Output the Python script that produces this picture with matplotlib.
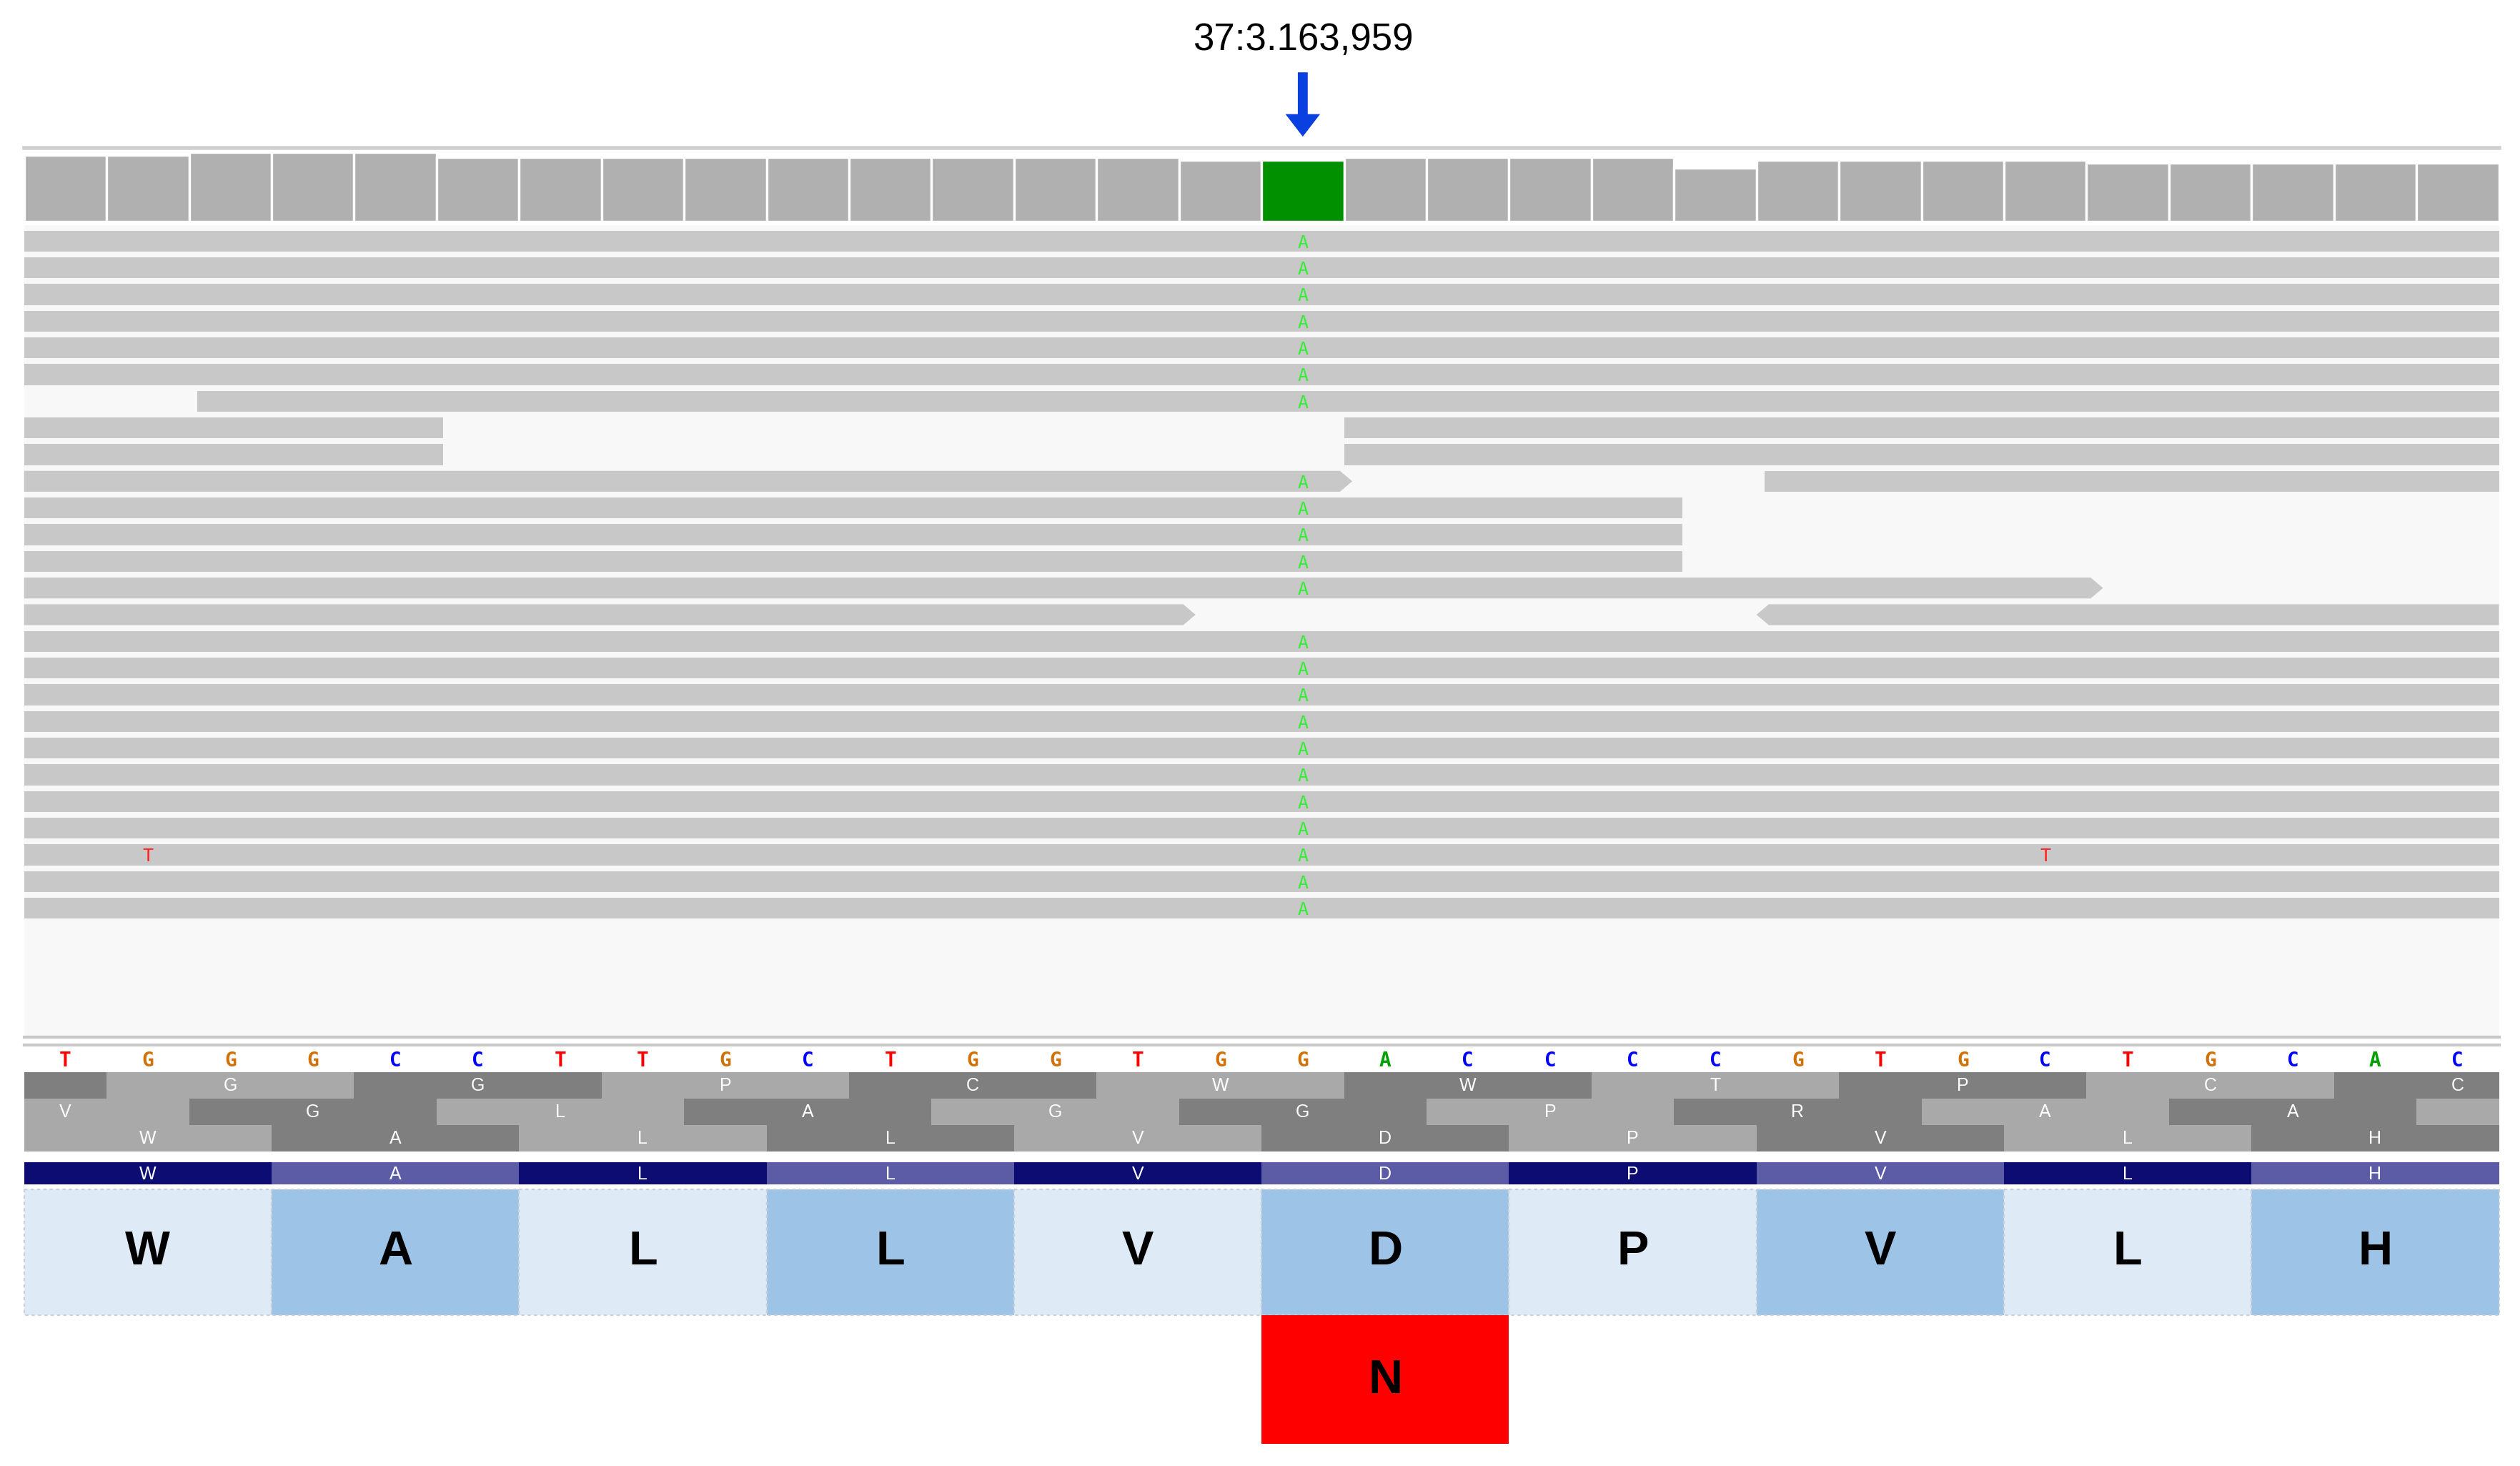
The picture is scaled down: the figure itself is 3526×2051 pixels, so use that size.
import matplotlib
matplotlib.use("Agg")
import matplotlib.pyplot as plt
from matplotlib.patches import Rectangle, Polygon, FancyArrow

plt.rcParams['font.family'] = ['Liberation Sans', 'DejaVu Sans']

# reference sequence (30 bases shown), variant at index 15
bases = list("TGGGCCTTGCTGGTGGACCCCGTGCTGCAC")
var_idx = 15
var_base = "A"
coverage = [26, 26, 27, 27, 27, 25, 25, 25, 25, 25, 25, 25, 25, 25, 24, 24,
            25, 25, 25, 25, 21, 24, 24, 24, 24, 23, 23, 23, 23, 23]

# reads: list of (start, end, arrow) per row; arrow 'r', 'l' or ''
reads = [
    [(0, 30, '')], [(0, 30, '')], [(0, 30, '')], [(0, 30, '')], [(0, 30, '')],
    [(0, 30, '')], [(2.1, 30, '')],
    [(0, 5.08, ''), (16.0, 30, '')], [(0, 5.08, ''), (16.0, 30, '')],
    [(0, 16.1, 'r'), (21.1, 30, '')],
    [(0, 20.1, '')], [(0, 20.1, '')], [(0, 20.1, '')],
    [(0, 25.2, 'r')],
    [(0, 14.2, 'r'), (21.0, 30, 'l')],
] + [[(0, 30, '')] for _ in range(11)]
mismatches = {23: [(1, 'T'), (24, 'T')]}

frame_letters = [
    (1, "GGPCWWTPCCT"),     # frame row 1, codons start at 1 (+ partial at -2)
    (-1, "VGLAGGPRAA"),     # frame row 2
    (0, "WALLVDPVLH"),      # frame row 3
]
frame_first_dark = [True, False, False]
protein = "WALLVDPVLH"
mutation = "N"
label = "37:3.163,959"

base_col = {'T': '#ff0000', 'G': '#d17105', 'C': '#0000ff', 'A': '#00a000'}

fig = plt.figure(figsize=(17.63, 10.255), dpi=200)
ax = fig.add_axes([0, 0, 1, 1])
ax.set_xlim(-15 / 51.33, (1568 - 15) / 51.33)
ax.set_ylim(912, 0)
ax.axis('off')

# top label and arrow
ax.text(var_idx + 0.5, 25, label, ha='center', va='center', fontsize=19)
ax.add_patch(FancyArrow(var_idx + 0.5, 45, 0, 40, width=0.12, head_width=0.42,
                        head_length=14, length_includes_head=True,
                        color='#0a3fe0', lw=0))

# separator lines
ax.plot([0, 30], [92, 92], color='#d0d0d0', lw=2)
ax.add_patch(Rectangle((0, 140), 30, 505, color='#f8f8f8', lw=0))

# coverage track
base_y = 138
for i, c in enumerate(coverage):
    h = c * 1.6
    col = '#009000' if i == var_idx else '#b0b0b0'
    ax.add_patch(Rectangle((i, base_y - h), 1, h, facecolor=col, edgecolor='white', lw=1.2))

# reads
row_h = 13
for r, segs in enumerate(reads):
    yc = 150 + r * 16.6
    for s, e, arr in segs:
        if arr == 'r':
            pts = [(s, yc - row_h / 2), (e - 0.15, yc - row_h / 2), (e, yc), (e - 0.15, yc + row_h / 2), (s, yc + row_h / 2)]
        elif arr == 'l':
            pts = [(s + 0.15, yc - row_h / 2), (e, yc - row_h / 2), (e, yc + row_h / 2), (s + 0.15, yc + row_h / 2), (s, yc)]
        else:
            pts = [(s, yc - row_h / 2), (e, yc - row_h / 2), (e, yc + row_h / 2), (s, yc + row_h / 2)]
        ax.add_patch(Polygon(pts, closed=True, color='#c8c8c8', lw=0))
        if s <= var_idx and e >= var_idx + 1:
            ax.text(var_idx + 0.5, yc + 1, var_base, ha='center', va='center',
                    fontsize=9, color='#33ee33', family='DejaVu Sans Mono')
    for pos, b in mismatches.get(r, []):
        ax.text(pos + 0.5, yc + 1, b, ha='center', va='center', fontsize=9,
                color='#ff2020', family='DejaVu Sans Mono')

ax.plot([0, 30], [645, 645], color='#c8c8c8', lw=1.5)
ax.plot([0, 30], [650, 650], color='#c8c8c8', lw=1.5)

# sequence
for i, b in enumerate(bases):
    ax.text(i + 0.5, 660, b, ha='center', va='center', fontsize=10, color=base_col[b],
            fontweight='bold', family='DejaVu Sans Mono')

# translation frames
for k, (start, letters) in enumerate(frame_letters):
    y0 = 667 + k * 16.5
    dark = frame_first_dark[k]
    s = start - 3 if start > 0 else start
    idx = -1 if start > 0 else 0
    while s < 30:
        lo, hi = max(s, 0), min(s + 3, 30)
        col = '#7f7f7f' if dark else '#a9a9a9'
        ax.add_patch(Rectangle((lo, y0), hi - lo, 16.5, color=col, lw=0))
        if 0 <= idx < len(letters):
            ax.text(s + 1.5, y0 + 8.5, letters[idx], ha='center', va='center',
                    fontsize=9, color='white')
        dark = not dark
        s += 3
        idx += 1

# protein bar and big boxes
for j, aa in enumerate(protein):
    x0 = j * 3
    ax.add_patch(Rectangle((x0, 723), 3, 14, color='#0c0c72' if j % 2 == 0 else '#5c5ca6', lw=0))
    ax.text(x0 + 1.5, 730.5, aa, ha='center', va='center', fontsize=9, color='white')
    ax.add_patch(Rectangle((x0, 740), 3, 78, facecolor='#deeaf6' if j % 2 == 0 else '#9dc3e6',
                           edgecolor='#c8d0d8', lw=0.8, ls=(0, (2, 2))))
    ax.text(x0 + 1.5, 779, aa, ha='center', va='center', fontsize=24, fontweight='bold')

# mutation box
mi = protein.index('D')
ax.add_patch(Rectangle((mi * 3, 818), 3, 80, color='#ff0000', lw=0))
ax.text(mi * 3 + 1.5, 859, mutation, ha='center', va='center', fontsize=24, fontweight='bold')

fig.savefig("out.png", dpi=200)
